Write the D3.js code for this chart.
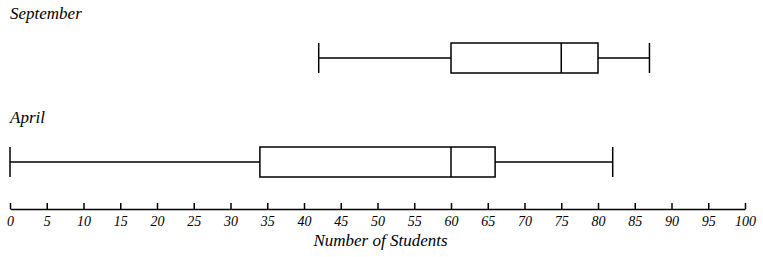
<!DOCTYPE html>
<html><head><meta charset="utf-8">
<script src="https://cdn.jsdelivr.net/npm/d3@7"></script>
<style>
html,body{margin:0;padding:0;background:#fff;}
text{font-family:"Liberation Serif","Times New Roman",serif;font-style:italic;fill:#000;}
</style></head>
<body>
<svg id="c" width="763" height="257"></svg>
<script>
const groups = ["September", "April"];
const mins = [42, 0];
const q1s = [60, 34];
const medians = [75, 60];
const q3s = [80, 66];
const maxs = [87, 82];
const tickValues = d3.range(0, 101, 5);
const axisTitle = "Number of Students";

const svg = d3.select("#c");
const x = d3.scaleLinear().domain([0, 100]).range([10, 745]);
const yCenter = d3.scaleOrdinal().domain(groups).range([58, 162]);
const labelY = d3.scaleOrdinal().domain(groups).range([19, 123]);
const halfH = 15;

const data = groups.map((g, i) => ({g, min: mins[i], q1: q1s[i], med: medians[i], q3: q3s[i], max: maxs[i]}));

const gs = svg.selectAll("g.box").data(data).join("g").attr("class", "box");
gs.append("text").attr("x", 10).attr("y", d => labelY(d.g)).attr("font-size", 17).text(d => d.g);
const st = {stroke: "#000", "stroke-width": 1.5, fill: "none"};
function line(sel, x1, y1, x2, y2) {
  const l = sel.append("line").attr("x1", x1).attr("y1", y1).attr("x2", x2).attr("y2", y2);
  Object.entries(st).forEach(([k, v]) => l.attr(k, v));
}
gs.each(function(d) {
  const s = d3.select(this), c = yCenter(d.g);
  line(s, x(d.min), c, x(d.q1), c);
  line(s, x(d.q3), c, x(d.max), c);
  line(s, x(d.min), c - halfH, x(d.min), c + halfH);
  line(s, x(d.max), c - halfH, x(d.max), c + halfH);
  s.append("rect").attr("x", x(d.q1)).attr("y", c - halfH).attr("width", x(d.q3) - x(d.q1)).attr("height", 2 * halfH)
    .attr("stroke", "#000").attr("stroke-width", 1.5).attr("fill", "none");
  line(s, x(d.med), c - halfH, x(d.med), c + halfH);
});

const axis = d3.axisBottom(x).tickValues(tickValues).tickSize(0).tickPadding(7).tickFormat(d3.format("d"));
const ag = svg.append("g").attr("transform", "translate(0,209)").call(axis);
ag.select(".domain").attr("stroke", "#000").attr("stroke-width", 1.5);
ag.selectAll(".tick line").attr("y1", -6).attr("y2", 0).attr("stroke", "#000").attr("stroke-width", 1.5);
ag.selectAll(".tick text").attr("font-size", 14).attr("font-family", "Liberation Serif").attr("font-style", "italic").attr("fill", "#000");
svg.append("text").attr("x", x(50) + 3).attr("y", 246).attr("text-anchor", "middle").attr("font-size", 17).text(axisTitle);
</script>
</body></html>
